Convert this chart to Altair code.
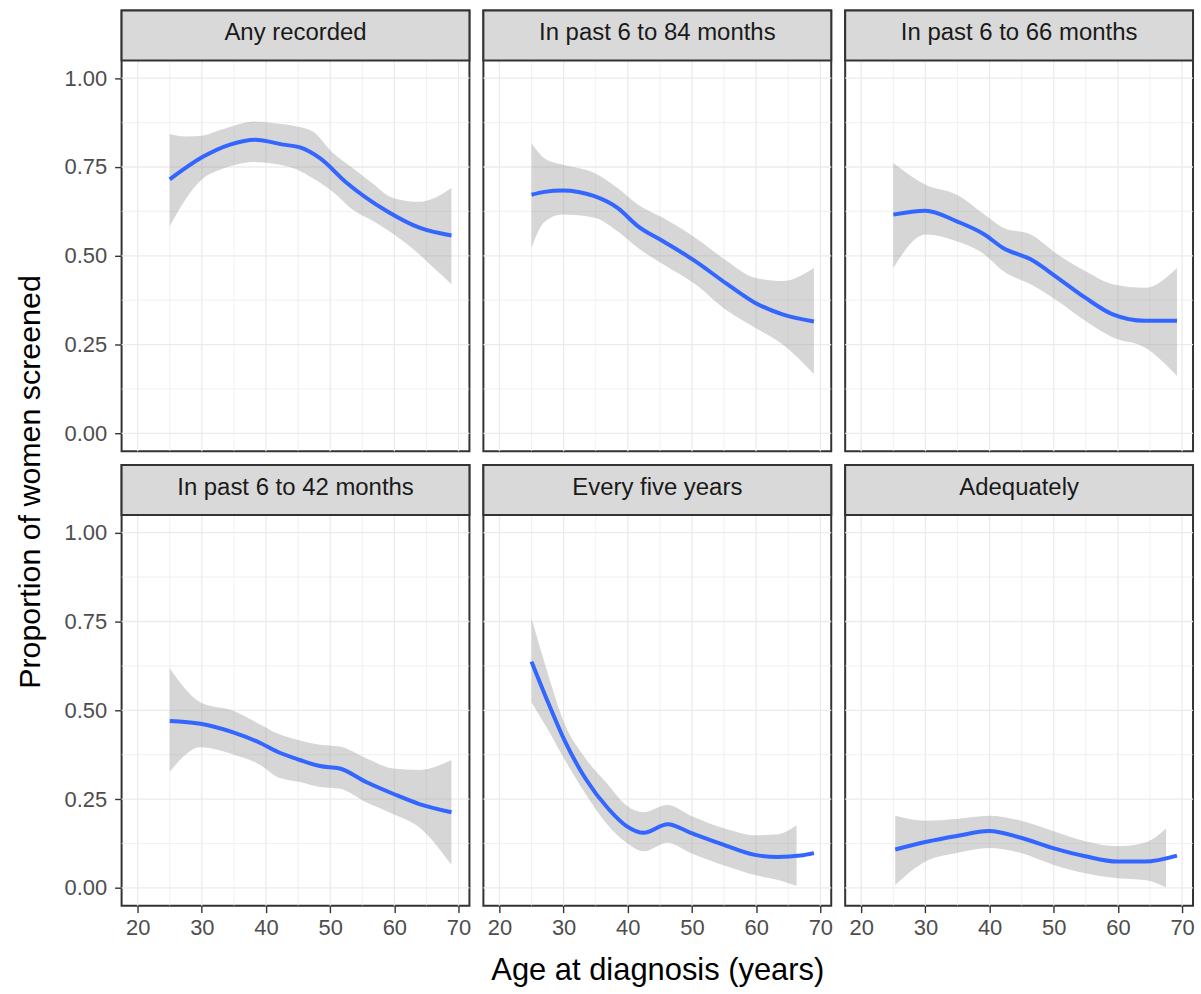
import altair as alt
import pandas as pd

FONT = "Liberation Sans"

panel_titles = ["Any recorded", "In past 6 to 84 months", "In past 6 to 66 months",
                "In past 6 to 42 months", "Every five years", "Adequately"]
y_title_text = "Proportion of women screened"
x_title_text = "Age at diagnosis (years)"

x_major = [20, 30, 40, 50, 60, 70]
x_minor = [25, 35, 45, 55, 65]
y_major = [0.0, 0.25, 0.5, 0.75, 1.0]
y_minor = [0.125, 0.375, 0.625, 0.875]

# Any recorded
p1_line_age = [25, 30.3, 34.4, 38.3, 42.7, 45.3, 48.4, 52.6, 58.8, 63.9, 68.9]
p1_line_val = [0.715, 0.780, 0.813, 0.827, 0.813, 0.805, 0.775, 0.705, 0.626, 0.579, 0.557]
p1_band_age = [25, 27.5, 30, 32.5, 35, 38, 41, 44.8, 47.3, 50.4, 53.5, 56.5, 59.8, 63.9, 66.5, 68.9]
p1_band_hi = [0.843, 0.836, 0.838, 0.852, 0.866, 0.878, 0.874, 0.864, 0.850, 0.790, 0.747, 0.705, 0.663, 0.652, 0.665, 0.691]
p1_band_lo = [0.583, 0.660, 0.715, 0.740, 0.755, 0.764, 0.760, 0.743, 0.718, 0.680, 0.630, 0.600, 0.562, 0.504, 0.460, 0.420]

# In past 6 to 84 months
p2_line_age = [25, 27, 29.8, 34.8, 38.4, 41.6, 45.5, 50.5, 55.5, 59.8, 64.1, 69]
p2_line_val = [0.672, 0.680, 0.684, 0.668, 0.635, 0.583, 0.541, 0.485, 0.420, 0.368, 0.335, 0.315]
p2_band_age = [25, 27, 29.8, 34.8, 38.4, 41.6, 45.5, 50.5, 55.5, 59.8, 64.1, 69]
p2_band_hi = [0.817, 0.775, 0.757, 0.733, 0.691, 0.644, 0.607, 0.551, 0.485, 0.438, 0.429, 0.466]
p2_band_lo = [0.523, 0.595, 0.616, 0.607, 0.569, 0.522, 0.476, 0.420, 0.345, 0.298, 0.251, 0.167]

# In past 6 to 66 months
p3_line_age = [25, 30, 34.9, 39.2, 42.1, 46.4, 50.6, 54.9, 59.2, 64.2, 69.2]
p3_line_val = [0.616, 0.627, 0.597, 0.560, 0.522, 0.490, 0.438, 0.382, 0.335, 0.317, 0.317]
p3_band_age = [25, 30, 34.9, 39.2, 42.1, 46.4, 50.6, 54.9, 59.2, 64.2, 69.2]
p3_band_hi = [0.761, 0.700, 0.672, 0.616, 0.579, 0.560, 0.504, 0.457, 0.420, 0.410, 0.466]
p3_band_lo = [0.466, 0.560, 0.541, 0.504, 0.457, 0.420, 0.373, 0.317, 0.270, 0.242, 0.162]

# In past 6 to 42 months
p4_line_age = [25, 29.8, 35, 39.1, 41.7, 45.3, 48.4, 51.5, 55.6, 59.8, 63.9, 68.9]
p4_line_val = [0.470, 0.462, 0.437, 0.408, 0.384, 0.360, 0.343, 0.336, 0.298, 0.265, 0.236, 0.213]
p4_band_age = [25, 29.8, 35, 39.1, 41.7, 45.3, 48.4, 51.5, 55.6, 59.8, 63.9, 68.9]
p4_band_hi = [0.618, 0.522, 0.498, 0.460, 0.435, 0.415, 0.403, 0.398, 0.365, 0.336, 0.332, 0.360]
p4_band_lo = [0.327, 0.396, 0.375, 0.346, 0.313, 0.298, 0.284, 0.279, 0.241, 0.208, 0.170, 0.065]

# Every five years
p5_line_age = [25, 27.7, 30.2, 33.4, 37, 39.8, 42.5, 46.2, 49.8, 54.1, 59.8, 63.4, 66.9, 69]
p5_line_val = [0.637, 0.517, 0.413, 0.308, 0.222, 0.174, 0.155, 0.179, 0.155, 0.127, 0.093, 0.087, 0.091, 0.098]
p5_band_age = [25, 27.7, 30.2, 33.4, 37, 39.8, 42.5, 46.2, 49.8, 55.5, 59.8, 63.4, 66.3]
p5_band_hi = [0.760, 0.594, 0.460, 0.365, 0.289, 0.232, 0.213, 0.233, 0.203, 0.165, 0.148, 0.151, 0.176]
p5_band_lo = [0.522, 0.441, 0.360, 0.265, 0.174, 0.127, 0.103, 0.127, 0.098, 0.060, 0.036, 0.022, 0.005]

# Adequately
p6_line_age = [25.3, 30, 34.9, 39.9, 44.9, 49.9, 54.9, 59.9, 64.2, 69.2]
p6_line_val = [0.108, 0.129, 0.146, 0.160, 0.141, 0.112, 0.089, 0.074, 0.074, 0.091]
p6_band_age = [25.3, 30, 34.9, 39.9, 44.9, 49.9, 54.9, 59.9, 64.2, 67.5]
p6_band_hi = [0.203, 0.189, 0.194, 0.203, 0.189, 0.160, 0.131, 0.117, 0.127, 0.167]
p6_band_lo = [0.008, 0.074, 0.098, 0.112, 0.098, 0.065, 0.041, 0.027, 0.022, 0.001]

panels = [
    (p1_line_age, p1_line_val, p1_band_age, p1_band_lo, p1_band_hi),
    (p2_line_age, p2_line_val, p2_band_age, p2_band_lo, p2_band_hi),
    (p3_line_age, p3_line_val, p3_band_age, p3_band_lo, p3_band_hi),
    (p4_line_age, p4_line_val, p4_band_age, p4_band_lo, p4_band_hi),
    (p5_line_age, p5_line_val, p5_band_age, p5_band_lo, p5_band_hi),
    (p6_line_age, p6_line_val, p6_band_age, p6_band_lo, p6_band_hi),
]

W = 349          # panel width
PH = 392         # plotting area height
SH = 50          # strip height
H = SH + PH      # full panel height (strip + plot)
GAP = 14
X_DOMAIN = [17.5, 71.7]
Y_DOMAIN = [-0.05, 1.05]
GRID = "#EBEBEB"


def make_panel(idx):
    line_age, line_val, band_age, band_lo, band_hi = panels[idx]
    row, col = divmod(idx, 3)
    show_x = row == 1
    show_y = col == 0
    xtitle = x_title_text if idx == 4 else None
    xs = alt.Scale(domain=X_DOMAIN, nice=False, zero=False)
    ys = alt.Scale(domain=Y_DOMAIN, range=[H, SH], nice=False, zero=False)
    xa = alt.Axis(values=x_major, grid=False, labels=show_x, ticks=show_x,
                  domain=False, format="d", labelFlush=False, labelOverlap=False)
    ya = alt.Axis(values=y_major, grid=False, labels=show_y, ticks=show_y,
                  domain=False, format=".2f", labelOverlap=False)

    def xenc(field):
        return alt.X(field, scale=xs, axis=xa, title=xtitle)

    def yenc(field):
        return alt.Y(field, scale=ys, axis=ya, title=None)

    gx_min = alt.Chart(pd.DataFrame({"v": x_minor})).mark_rule(
        color=GRID, strokeWidth=0.7).encode(
        x=xenc("v:Q"), y=alt.value(SH), y2=alt.value(H))
    gy_min = alt.Chart(pd.DataFrame({"v": y_minor})).mark_rule(
        color=GRID, strokeWidth=0.7).encode(
        y=yenc("v:Q"), x=alt.value(0), x2=alt.value(W))
    gx_maj = alt.Chart(pd.DataFrame({"v": x_major})).mark_rule(
        color=GRID, strokeWidth=1.3).encode(
        x=xenc("v:Q"), y=alt.value(SH), y2=alt.value(H))
    gy_maj = alt.Chart(pd.DataFrame({"v": y_major})).mark_rule(
        color=GRID, strokeWidth=1.3).encode(
        y=yenc("v:Q"), x=alt.value(0), x2=alt.value(W))

    band_df = pd.DataFrame({"age": band_age, "lo": band_lo, "hi": band_hi})
    band = alt.Chart(band_df).mark_area(
        color="#999999", opacity=0.4, interpolate="monotone").encode(
        x=xenc("age:Q"), y=yenc("lo:Q"), y2="hi:Q")
    line_df = pd.DataFrame({"age": line_age, "val": line_val})
    line = alt.Chart(line_df).mark_line(
        color="#3366FF", strokeWidth=4, interpolate="monotone").encode(
        x=xenc("age:Q"), y=yenc("val:Q"))

    lab_df = pd.DataFrame({"label": [panel_titles[idx]]})
    strip_bg = alt.Chart(lab_df).mark_rect(
        fill="#D9D9D9", stroke="#333333", strokeWidth=2).encode(
        x=alt.value(0), x2=alt.value(W), y=alt.value(0), y2=alt.value(SH))
    strip_txt = alt.Chart(lab_df).mark_text(
        font=FONT, fontSize=24, color="#1A1A1A", baseline="alphabetic", align="center"
    ).encode(text="label:N", x=alt.value(W / 2), y=alt.value(29.5))

    layers = [gy_min, gx_min, gy_maj, gx_maj, band, line, strip_bg, strip_txt]
    if idx == 0:
        yt = alt.Chart(pd.DataFrame({"t": [y_title_text]})).mark_text(
            font=FONT, fontSize=30.5, angle=270, baseline="middle", align="center",
            color="black"
        ).encode(text="t:N", x=alt.value(-91), y=alt.value(473))
        layers.append(yt)
    return alt.layer(*layers).properties(width=W, height=H)


chart = alt.concat(*[make_panel(i) for i in range(6)], columns=3,
                   spacing=GAP, bounds="flush").properties(
    padding={"left": 15, "top": 7, "right": 5, "bottom": 4},
    background="white",
).configure_view(
    stroke="#333333", strokeWidth=2, fill="white"
).configure_axis(
    tickColor="#333333", tickWidth=1.4, tickSize=7,
    labelColor="#4D4D4D", labelFont=FONT, labelFontSize=22,
    titleFont=FONT, titleFontSize=31, titleColor="black", titleFontWeight="normal",
).configure_axisX(
    labelPadding=5, titlePadding=17
).configure_axisY(
    labelPadding=8
)

chart.save("out.html", embed_options={"renderer": "svg", "actions": False})
